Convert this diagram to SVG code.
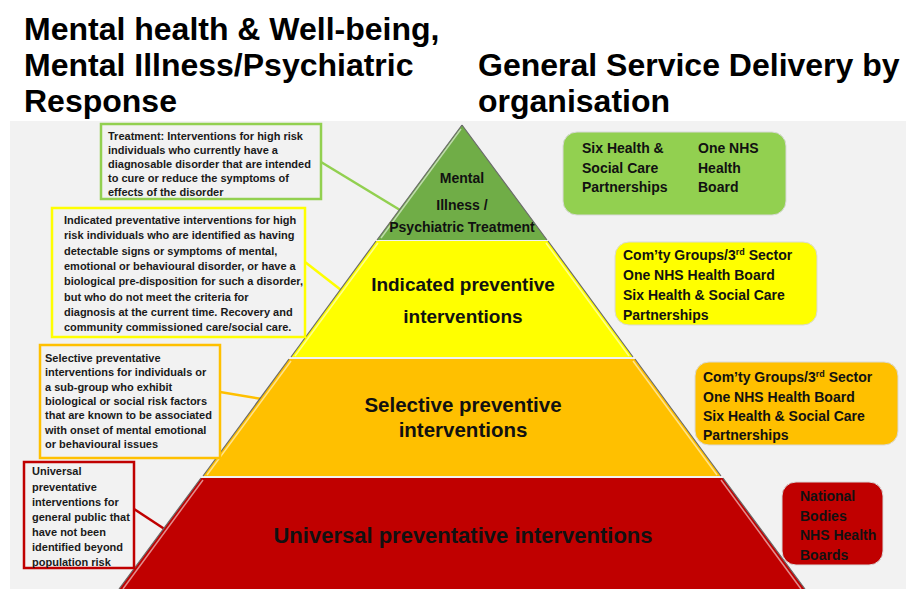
<svg xmlns="http://www.w3.org/2000/svg" width="906" height="589" viewBox="0 0 906 589">
<style>
.title{font-family:"Liberation Sans",Arial,sans-serif;font-weight:bold;font-size:32px;fill:#000}
.lt{font-family:"Liberation Sans",Arial,sans-serif;font-weight:bold;font-size:11px;fill:#1a1a1a}
.rt{font-family:"Liberation Sans",Arial,sans-serif;font-weight:bold;font-size:14px;fill:#111}
.pt{font-family:"Liberation Sans",Arial,sans-serif;font-weight:bold;fill:#111;text-anchor:middle}
.lbox{fill:#f2f2f2;stroke-width:2.5}
.edge{fill:none;stroke:#6b6b6b;stroke-width:1.2}
.hl{fill:none;stroke:#ffffff;stroke-opacity:0.55;stroke-width:1.5}
.conn{fill:none;stroke-width:2.5}
</style>
<rect x="0" y="0" width="906" height="589" fill="#ffffff"/>
<rect x="10" y="121" width="896" height="468" fill="#f2f2f2"/>

<text class="title" x="24" y="40">Mental health &amp; Well-being,</text>
<text class="title" x="24" y="76">Mental Illness/Psychiatric</text>
<text class="title" x="24" y="112">Response</text>
<text class="title" x="478" y="76">General Service Delivery by</text>
<text class="title" x="478" y="112">organisation</text>

<g id="connectors">
<line class="conn" x1="321" y1="162" x2="400" y2="210" stroke="#92d050"/>
<line class="conn" x1="305" y1="262" x2="341" y2="290" stroke="#ffff00"/>
<line class="conn" x1="220" y1="392" x2="262" y2="399" stroke="#ffc000"/>
<line class="conn" x1="134" y1="509" x2="166" y2="530" stroke="#c00000"/>
</g>

<g id="tier-red">
<polygon points="201,478 723,478 805,589 119,589" fill="#c00000"/>
<path class="hl" d="M203,480 L123,589 M721,480 L801,589"/>
<path class="edge" d="M201,478 L119,589 M723,478 L805,589"/>
<text class="pt" x="463" y="543" font-size="22">Universal preventative interventions</text>
</g>
<g id="tier-orange">
<polygon points="289,359 635,359 721,476 203,476" fill="#ffc000"/>
<path class="hl" d="M291,361 L207,475 M633,361 L717,475"/>
<path class="edge" d="M289,359 L203,476 M635,359 L721,476"/>
<text class="pt" x="463" y="412" font-size="20.5">Selective preventive</text>
<text class="pt" x="463" y="437" font-size="20.5">interventions</text>
</g>
<g id="tier-yellow">
<polygon points="376,241 548,241 633,357 291,357" fill="#ffff00"/>
<path class="hl" d="M378,243 L295,356 M546,243 L629,356"/>
<path class="edge" d="M376,241 L291,357 M548,241 L633,357"/>
<text class="pt" x="463" y="291" font-size="19">Indicated preventive</text>
<text class="pt" x="463" y="323" font-size="19">interventions</text>
</g>
<g id="tier-green">
<polygon points="462,125 547,240 377,240" fill="#70ad47"/>
<path class="hl" d="M461,129 L381,238"/>
<path class="edge" d="M462,125 L377,240 M462,125 L547,240"/>
<text class="pt" x="462" y="183" font-size="14">Mental</text>
<text class="pt" x="462" y="210" font-size="14">Illness /</text>
<text class="pt" x="462" y="232" font-size="14">Psychiatric Treatment</text>
</g>

<g id="box-treatment">
<rect class="lbox" x="101" y="124" width="220" height="75" stroke="#92d050"/>
<text class="lt" x="108" y="140">Treatment: Interventions for high risk</text>
<text class="lt" x="108" y="154">individuals who currently have a</text>
<text class="lt" x="108" y="168">diagnosable disorder that are intended</text>
<text class="lt" x="108" y="182">to cure or reduce the symptoms of</text>
<text class="lt" x="108" y="196">effects of the disorder</text>
</g>
<g id="box-indicated">
<rect class="lbox" x="52" y="208" width="253" height="129" stroke="#ffff00"/>
<text class="lt" x="64" y="224">Indicated preventative interventions for high</text>
<text class="lt" x="64" y="239.3">risk individuals who are identified as having</text>
<text class="lt" x="64" y="254.6">detectable signs or symptoms of mental,</text>
<text class="lt" x="64" y="269.9">emotional or behavioural disorder, or have a</text>
<text class="lt" x="64" y="285.2">biological pre-disposition for such a disorder,</text>
<text class="lt" x="64" y="300.5">but who do not meet the criteria  for</text>
<text class="lt" x="64" y="315.8">diagnosis at the current time. Recovery and</text>
<text class="lt" x="64" y="331.1">community commissioned care/social care.</text>
</g>
<g id="box-selective">
<rect class="lbox" x="40" y="345" width="180" height="113" stroke="#ffc000"/>
<text class="lt" x="45" y="362">Selective preventative</text>
<text class="lt" x="45" y="376">interventions for individuals or</text>
<text class="lt" x="45" y="391">a sub-group who exhibit</text>
<text class="lt" x="45" y="405">biological or social risk factors</text>
<text class="lt" x="45" y="419">that are known to be associated</text>
<text class="lt" x="45" y="434">with onset of mental emotional</text>
<text class="lt" x="45" y="448">or behavioural issues</text>
</g>
<g id="box-universal">
<rect class="lbox" x="24" y="462" width="110" height="106" stroke="#c00000"/>
<text class="lt" x="32" y="475">Universal</text>
<text class="lt" x="32" y="491">preventative</text>
<text class="lt" x="32" y="506">interventions for</text>
<text class="lt" x="32" y="521">general public that</text>
<text class="lt" x="32" y="536">have not been</text>
<text class="lt" x="32" y="551">identified beyond</text>
<text class="lt" x="32" y="566">population risk</text>
</g>

<g id="org-green">
<rect x="563" y="132" width="223" height="83" rx="14" fill="#92d050" stroke="#d9d9d9" stroke-width="1"/>
<text class="rt" x="582" y="153">Six Health &amp;</text>
<text class="rt" x="582" y="173">Social Care</text>
<text class="rt" x="582" y="192">Partnerships</text>
<text class="rt" x="698" y="153">One NHS</text>
<text class="rt" x="698" y="173">Health</text>
<text class="rt" x="698" y="192">Board</text>
</g>
<g id="org-yellow">
<rect x="615" y="242" width="202" height="83" rx="14" fill="#ffff00" stroke="#d9d9d9" stroke-width="1"/>
<text class="rt" x="623" y="260">Com’ty Groups/3<tspan font-size="9" dy="-5">rd</tspan><tspan dy="5"> Sector</tspan></text>
<text class="rt" x="623" y="280">One NHS Health Board</text>
<text class="rt" x="623" y="300">Six Health &amp; Social Care</text>
<text class="rt" x="623" y="320">Partnerships</text>
</g>
<g id="org-orange">
<rect x="695" y="362" width="203" height="83" rx="14" fill="#ffc000" stroke="#d9d9d9" stroke-width="1"/>
<text class="rt" x="703" y="382">Com’ty Groups/3<tspan font-size="9" dy="-5">rd</tspan><tspan dy="5"> Sector</tspan></text>
<text class="rt" x="703" y="402">One NHS Health Board</text>
<text class="rt" x="703" y="421">Six Health &amp; Social Care</text>
<text class="rt" x="703" y="440">Partnerships</text>
</g>
<g id="org-red">
<rect x="782" y="482" width="101" height="83" rx="14" fill="#c00000" stroke="#d9d9d9" stroke-width="1"/>
<text class="rt" x="800" y="501">National</text>
<text class="rt" x="800" y="521">Bodies</text>
<text class="rt" x="800" y="540">NHS Health</text>
<text class="rt" x="800" y="560">Boards</text>
</g>
</svg>
